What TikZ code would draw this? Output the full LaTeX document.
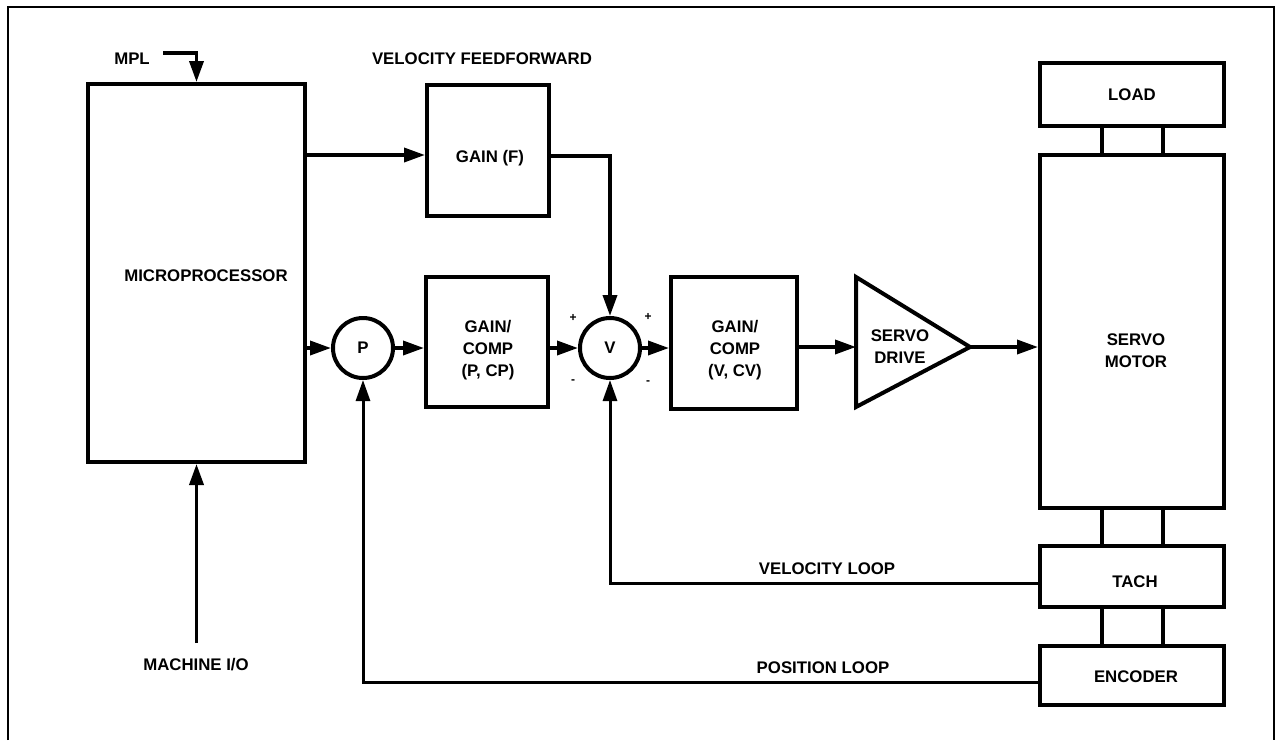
\documentclass[tikz,border=0pt]{standalone}
\usepackage{fontspec}
\setmainfont{Liberation Sans}
\usetikzlibrary{arrows.meta,calc}
\begin{document}
\begin{tikzpicture}[x=0.5pt,y=-0.5pt,
  txt/.style={font=\fontsize{8.4}{11}\selectfont\bfseries, inner sep=0pt, align=center},
  blk/.style={draw, line width=2pt, inner sep=0pt, align=center, font=\fontsize{8.4}{11}\selectfont\bfseries},
  sum/.style={draw, circle, line width=2pt, minimum size=30pt, inner sep=0pt, font=\fontsize{8.4}{11}\selectfont\bfseries},
  sign/.style={font=\fontsize{6}{6}\selectfont\bfseries, inner sep=0pt},
  arr/.style={line width=1.8pt, -{Triangle[length=10.5pt,width=7pt]}},
  loopline/.style={line width=1.5pt, -{Triangle[length=10.5pt,width=7pt]}},
  shaft/.style={line width=1.7pt},
  frameline/.style={line width=1.2pt}]
\useasboundingbox (0,0) rectangle (1276,740);
\draw[frameline] (8,740) -- (8,7) -- (1274,7) -- (1274,740);

% blocks
\node[blk, minimum width=108.5pt, minimum height=189pt] (mp) at (196.5,273) {};
\node[txt] (mptxt) at (206,276) {MICROPROCESSOR};
\node[blk, minimum width=61pt, minimum height=65.5pt] (gainf) at (488,150) {};
\node[txt] (gainftxt) at (490,158) {GAIN (F)};
\node[blk, minimum width=61pt, minimum height=65pt] (gc1) at (487,342) {};
\node[txt] (gc1txt) at (488,350) {GAIN/\\COMP\\(P, CP)};
\node[blk, minimum width=63pt, minimum height=66pt] (gc2) at (734,343) {};
\node[txt] (gc2txt) at (735,350) {GAIN/\\COMP\\(V, CV)};
\node[blk, minimum width=92pt, minimum height=31.5pt] (load) at (1132,94.5) {LOAD};
\node[blk, minimum width=92pt, minimum height=176.5pt] (motor) at (1132,331.5) {};
\node[txt] (motorlbl) at (1136,351) {SERVO\\MOTOR};
\node[blk, minimum width=92pt, minimum height=30.5pt] (tach) at (1132,576.5) {};
\node[txt] (tachtxt) at (1135,582) {TACH};
\node[blk, minimum width=92pt, minimum height=29.5pt] (enc) at (1132,675.5) {};
\node[txt] (enctxt) at (1136,677) {ENCODER};

\node[sum] (p) at (363,348) {P};
\node[sum] (v) at (610,348) {V};

% servo drive triangle
\coordinate (drvin) at (856,347);
\coordinate (drvout) at (970,347);
\draw[line width=2pt, line join=miter] (856,277) -- (856,407) -- (drvout) -- cycle;
\node[txt] (drvlbl) at (900,347) {SERVO\\DRIVE};

% labels
\node[txt] (mpl) at (132,59) {MPL};
\node[txt] (vff) at (482,59) {VELOCITY FEEDFORWARD};
\node[txt] (mio) at (196,665) {MACHINE I/O};
\node[txt] (vloop) at (827,569) {VELOCITY LOOP};
\node[txt] (ploop) at (823,668) {POSITION LOOP};
\node[sign] (sp1) at (573,318) {+};
\node[sign] (sp2) at (648,317) {+};
\node[sign] (sm1) at (573,382) {-};
\node[sign] (sm2) at (648,383) {-};

% connectors
\coordinate (mplend) at (163,53);
\draw[arr] (mplend) -| (mp.north);
\coordinate (mioend) at (196.5,643);
\draw[arr] (mioend) -- (mp.south);
\coordinate (gfin) at ($(gainf.west)+(0,5)$);
\draw[arr] (gfin -| mp.east) -- (gfin);
\draw[arr] ($(gainf.east)+(0,6)$) -| (v.north);
\draw[arr] (mp.east |- p.west) -- (p.west);
\draw[arr] (p.east) -- (p.east -| gc1.west);
\draw[arr] (gc1.east |- v.west) -- (v.west);
\draw[arr] (v.east) -- (v.east -| gc2.west);
\draw[arr] (gc2.east |- drvin) -- (drvin);
\draw[arr] (drvout) -- (drvout -| motor.west);
\draw[loopline] ($(tach.west)+(0,6.5)$) -| (v.south);
\draw[loopline] ($(enc.west)+(0,6.5)$) -| (p.south);

% shafts
\draw[shaft] ($(load.south)+(-30,0)$) -- ($(motor.north)+(-30,0)$);
\draw[shaft] ($(load.south)+(31,0)$) -- ($(motor.north)+(31,0)$);
\draw[shaft] ($(motor.south)+(-30,0)$) -- ($(tach.north)+(-30,0)$);
\draw[shaft] ($(motor.south)+(31,0)$) -- ($(tach.north)+(31,0)$);
\draw[shaft] ($(tach.south)+(-30,0)$) -- ($(enc.north)+(-30,0)$);
\draw[shaft] ($(tach.south)+(31,0)$) -- ($(enc.north)+(31,0)$);
\end{tikzpicture}
\end{document}
